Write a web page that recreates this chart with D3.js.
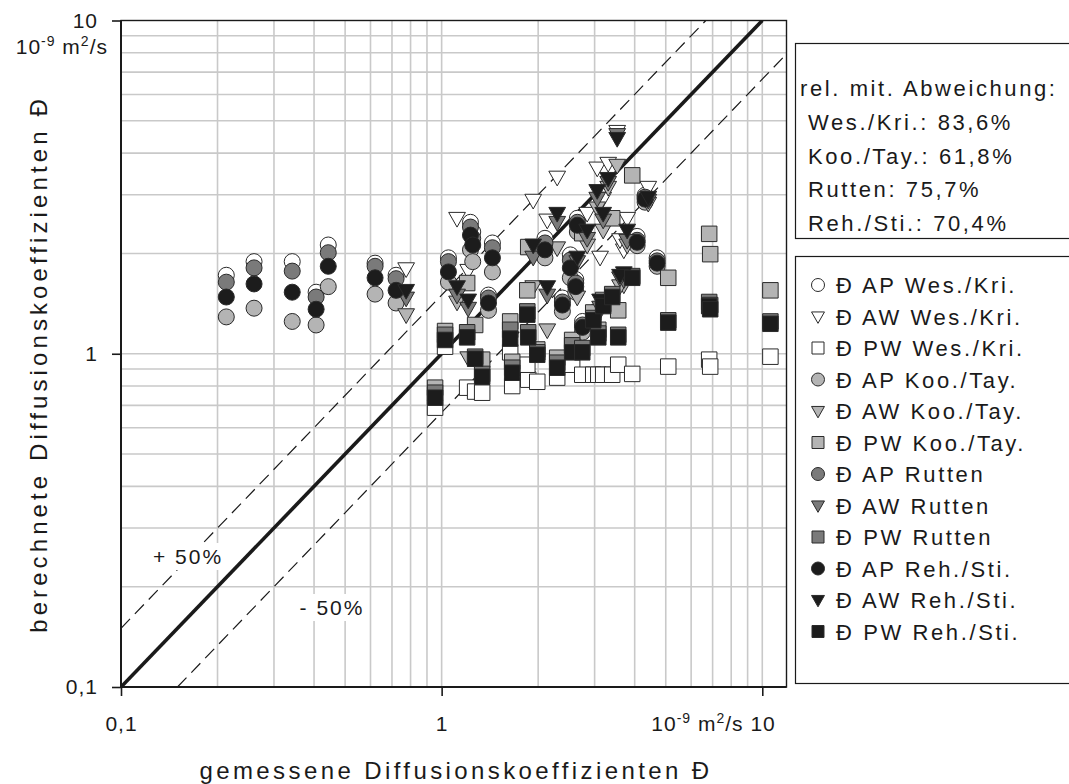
<!DOCTYPE html>
<html>
<head>
<meta charset="utf-8">
<script src="https://cdn.jsdelivr.net/npm/d3@7"></script>
<style>
  body { margin: 0; background: #fff; }
  text { font-family: "Liberation Sans", Arial, sans-serif; fill: #1a1a1a; }
</style>
</head>
<body>
<svg id="chart" width="1069" height="784"></svg>
<script>
// ---- measured vs. calculated diffusion coefficients (10^-9 m²/s) ----
// AP system: measured values and the four model predictions
const apMeasured = [0.213, 0.260, 0.342, 0.406, 0.443, 0.620, 0.721, 1.05, 1.23, 1.25, 1.44, 1.40, 2.10, 2.52, 2.65, 2.62, 2.38, 2.75, 4.07, 4.31, 4.70];
const apWes = [1.72, 1.89, 1.89, 1.53, 2.12, 1.87, 1.72, 1.94, 2.48, 2.32, 2.15, 1.50, 2.22, 1.98, 2.55, 1.67, 1.47, 1.25, 2.25, 2.99, 1.94];
const apKoo = [1.29, 1.37, 1.25, 1.22, 1.59, 1.51, 1.42, 1.64, 2.05, 1.89, 1.76, 1.35, 1.94, 1.69, 2.32, 1.53, 1.34, 1.16, 2.11, 2.85, 1.83];
const apRut = [1.64, 1.81, 1.77, 1.48, 2.01, 1.83, 1.68, 1.89, 2.40, 2.22, 2.08, 1.47, 2.15, 1.91, 2.48, 1.63, 1.43, 1.22, 2.19, 2.95, 1.90];
const apReh = [1.48, 1.62, 1.53, 1.36, 1.83, 1.69, 1.55, 1.76, 2.27, 2.12, 1.94, 1.42, 2.05, 1.81, 2.43, 1.59, 1.40, 1.20, 2.16, 2.91, 1.87];

// AW system
const awMeasured = [0.775, 1.117, 1.21, 1.93, 2.135, 2.293, 2.648, 2.844, 3.057, 3.19, 3.307, 3.528, 3.70, 3.79, 4.41, 3.12, 3.60];
const awWes = [1.80, 2.55, 1.78, 2.89, 2.52, 3.39, 2.43, 2.64, 3.61, 2.93, 3.73, 4.65, 2.05, 2.55, 3.16, 1.95, 2.20];
const awKoo = [1.31, 1.43, 0.973, 1.59, 1.18, 2.08, 1.48, 2.12, 2.74, 2.35, 3.16, 3.68, 1.61, 2.12, 2.83, 1.35, 1.60];
const awRut = [1.47, 1.50, 1.37, 1.95, 1.50, 2.48, 1.89, 2.22, 2.93, 2.52, 3.27, 4.55, 1.67, 2.19, 2.89, 1.38, 1.69];
const awReh = [1.55, 1.59, 1.45, 2.12, 1.59, 2.64, 1.95, 2.35, 3.09, 2.64, 3.36, 4.43, 1.75, 2.35, 2.95, 1.45, 1.72];

// PW system
const pwMeasured = [0.954, 1.025, 1.201, 1.272, 1.338, 1.636, 1.66, 1.862, 1.987, 1.85, 2.293, 2.553, 2.745, 2.97, 3.08, 3.19, 3.404, 3.554, 3.93, 5.09, 6.83, 6.88, 10.6];
const pwWes = [0.689, 1.05, 0.791, 0.770, 0.764, 1.01, 0.80, 0.836, 0.824, 0.927, 0.848, 0.927, 0.865, 0.865, 0.865, 0.865, 0.865, 0.927, 0.87, 0.915, 0.96, 0.915, 0.98];
const pwKoo = [0.791, 1.17, 1.63, 1.22, 0.96, 1.25, 0.946, 2.09, 1.03, 1.55, 0.973, 1.10, 2.30, 1.33, 1.18, 1.45, 2.55, 1.35, 3.43, 1.69, 2.29, 1.99, 1.55];
const pwRut = [0.764, 1.14, 1.16, 0.98, 0.87, 1.18, 0.908, 1.16, 1.01, 1.34, 0.94, 1.06, 1.04, 1.28, 1.15, 1.41, 1.51, 1.14, 1.71, 1.26, 1.43, 1.40, 1.25];
const pwReh = [0.738, 1.10, 1.12, 0.966, 0.853, 1.11, 0.877, 1.12, 0.993, 1.31, 0.908, 1.01, 1.01, 1.26, 1.12, 1.39, 1.48, 1.12, 1.69, 1.24, 1.39, 1.36, 1.23];

// mean relative deviation per model
const modelNames = ["Wes./Kri.", "Koo./Tay.", "Rutten", "Reh./Sti."];
const modelDeviation = ["83,6%", "61,8%", "75,7%", "70,4%"];
const modelFill = ["#ffffff", "#b4b4b4", "#7a7a7a", "#1c1c1c"];

const systems = ["AP", "AW", "PW"];
const systemShape = { AP: "circle", AW: "triangle", PW: "square" };
const measuredBySystem = { AP: apMeasured, AW: awMeasured, PW: pwMeasured };
const predictedBySystem = {
  AP: [apWes, apKoo, apRut, apReh],
  AW: [awWes, awKoo, awRut, awReh],
  PW: [pwWes, pwKoo, pwRut, pwReh]
};

const axisTicks = [0.1, 1, 10];
const axisTickLabels = ["0,1", "1", "10"];

// series in legend order: model outer, system inner
const series = [];
modelNames.forEach((m, mi) => {
  systems.forEach(s => {
    series.push({
      label: "Đ " + s + " " + m,
      shape: systemShape[s],
      fill: modelFill[mi],
      points: measuredBySystem[s].map((xv, i) => ({ x: xv, y: predictedBySystem[s][mi][i] }))
    });
  });
});

const svg = d3.select("#chart");
const plot = { left: 121, right: 786.5, top: 20.5, bottom: 687 };

const x = d3.scaleLog().domain([0.1, 11.9]).range([plot.left, plot.right]);
const y = d3.scaleLog().domain([0.1, 10]).range([plot.bottom, plot.top]);

// grid lines at 2..9 of each decade and at the decade marks
const gridX = [], gridY = [];
[0.1, 1].forEach(d => { for (let k = 2; k <= 9; k++) { gridX.push(d * k); gridY.push(d * k); } });
gridX.push(1, 10); gridY.push(1);

const grid = svg.append("g").attr("stroke", "#c9c9c9").attr("stroke-width", 1.6);
grid.selectAll("line.gx").data(gridX).join("line").attr("class", "gx")
  .attr("x1", d => x(d)).attr("x2", d => x(d)).attr("y1", plot.top).attr("y2", plot.bottom);
grid.selectAll("line.gy").data(gridY).join("line").attr("class", "gy")
  .attr("y1", d => y(d)).attr("y2", d => y(d)).attr("x1", plot.left).attr("x2", plot.right);

// reference lines: 1:1 and ±50 %
const clipId = "plotclip";
svg.append("clipPath").attr("id", clipId).append("rect")
  .attr("x", plot.left).attr("y", plot.top)
  .attr("width", plot.right - plot.left).attr("height", plot.bottom - plot.top);

const refs = svg.append("g").attr("clip-path", `url(#${clipId})`).attr("fill", "none");
const line = d3.line().x(d => x(d[0])).y(d => y(d[1]));
refs.append("path").datum([[0.1, 0.1], [10, 10]]).attr("d", line)
  .attr("stroke", "#1a1a1a").attr("stroke-width", 3.6);
refs.append("path").datum([[0.1, 0.15], [10 / 1.5, 10]]).attr("d", line)
  .attr("stroke", "#1a1a1a").attr("stroke-width", 1.2).attr("stroke-dasharray", "13,7");
refs.append("path").datum([[0.15, 0.1], [11.9, 11.9 / 1.5]]).attr("d", line)
  .attr("stroke", "#1a1a1a").attr("stroke-width", 1.2).attr("stroke-dasharray", "13,7");

// band labels with white background
function bandLabel(cx, cy, txt) {
  const g = svg.append("g");
  const t = g.append("text").attr("x", cx).attr("y", cy + 7).attr("text-anchor", "middle")
    .style("font-size", "21px").style("letter-spacing", "2px").text(txt);
  const bb = t.node().getBBox();
  g.insert("rect", "text").attr("x", bb.x - 5).attr("y", bb.y - 2)
    .attr("width", bb.width + 8).attr("height", bb.height + 4).attr("fill", "#fff");
}
bandLabel(188, 557, "+ 50%");
bandLabel(332, 608, "- 50%");

// marker shapes
function shapePath(shape, s) {
  if (shape === "circle") return d3.symbol(d3.symbolCircle, Math.PI * s * s / 4)();
  if (shape === "square") return `M${-s / 2},${-s / 2}H${s / 2}V${s / 2}H${-s / 2}Z`;
  const w = s * 1.08, h = s * 0.95;
  return `M${-w / 2},${-h * 0.4}L${w / 2},${-h * 0.4}L0,${h * 0.6}Z`;
}

const marks = svg.append("g");
series.forEach(sr => {
  marks.append("g").selectAll("path").data(sr.points).join("path")
    .attr("d", shapePath(sr.shape, sr.shape === "circle" ? 16 : 15.5))
    .attr("transform", d => `translate(${x(d.x)},${y(d.y)})`)
    .attr("fill", sr.fill).attr("stroke", "#2a2a2a").attr("stroke-width", 1);
});

// frame
svg.append("rect").attr("x", plot.left).attr("y", plot.top)
  .attr("width", plot.right - plot.left).attr("height", plot.bottom - plot.top)
  .attr("fill", "none").attr("stroke", "#1a1a1a").attr("stroke-width", 1.4);
svg.append("line").attr("x1", plot.left).attr("x2", plot.right).attr("y1", plot.bottom).attr("y2", plot.bottom)
  .attr("stroke", "#1a1a1a").attr("stroke-width", 2);
svg.append("line").attr("x1", plot.left).attr("x2", plot.left).attr("y1", plot.top).attr("y2", plot.bottom)
  .attr("stroke", "#1a1a1a").attr("stroke-width", 2);

// axes
const fmt = d => axisTickLabels[axisTicks.indexOf(d)];
const xAxis = svg.append("g").attr("transform", `translate(0,${plot.bottom})`)
  .call(d3.axisBottom(x).tickValues(axisTicks).tickFormat(fmt).tickSize(9).tickPadding(20));
const yAxis = svg.append("g").attr("transform", `translate(${plot.left},0)`)
  .call(d3.axisLeft(y).tickValues(axisTicks).tickFormat(fmt).tickSize(9).tickPadding(14));
[xAxis, yAxis].forEach(a => {
  a.select(".domain").remove();
  a.selectAll(".tick line").attr("stroke", "#1a1a1a").attr("stroke-width", 1.6);
  a.selectAll(".tick text").style("font-size", "21px").style("letter-spacing", "1px")
    .attr("font-family", null).attr("fill", "#1a1a1a");
});

// unit with superscripts
function unitText(sel) {
  sel.append("tspan").text("10");
  sel.append("tspan").attr("dy", -8).style("font-size", "14px").text("-9");
  sel.append("tspan").attr("dy", 8).text(" m");
  sel.append("tspan").attr("dy", -8).style("font-size", "14px").text("2");
  sel.append("tspan").attr("dy", 8).text("/s");
}
// x tick "10" carries the unit in front of it
xAxis.selectAll(".tick text").filter(d => d === 10).each(function () {
  const t = d3.select(this).text("").attr("text-anchor", "end").attr("x", 13);
  unitText(t);
  t.append("tspan").text(" 10");
});
const yUnit = svg.append("text").attr("x", 108).attr("y", 54).attr("text-anchor", "end")
  .style("font-size", "21px").style("letter-spacing", "1px");
unitText(yUnit);

// axis titles
svg.append("text").attr("x", 456).attr("y", 779).attr("text-anchor", "middle")
  .style("font-size", "24px").style("letter-spacing", "3.4px")
  .text("gemessene Diffusionskoeffizienten Đ");
svg.append("text").attr("transform", "translate(47,364) rotate(-90)").attr("text-anchor", "middle")
  .style("font-size", "24px").style("letter-spacing", "4.1px")
  .text("berechnete Diffusionskoeffizienten Đ");

// deviation box
svg.append("rect").attr("x", 795.5).attr("y", 43.5).attr("width", 300).attr("height", 195)
  .attr("fill", "#fff").attr("stroke", "#1a1a1a").attr("stroke-width", 1.2);
svg.append("text").attr("x", 800).attr("y", 96).style("font-size", "22px").style("letter-spacing", "2.6px")
  .text("rel. mit. Abweichung:");
modelNames.forEach((m, i) => {
  svg.append("text").attr("x", 808).attr("y", 130 + i * 33.5)
    .style("font-size", "22px").style("letter-spacing", "2.6px")
    .text(m + ": " + modelDeviation[i]);
});

// legend
svg.append("rect").attr("x", 795.5).attr("y", 256.5).attr("width", 300).attr("height", 427)
  .attr("fill", "#fff").attr("stroke", "#1a1a1a").attr("stroke-width", 1.2);
const leg = svg.append("g").selectAll("g").data(series).join("g")
  .attr("transform", (d, i) => `translate(818,${285 + i * 31.5})`);
leg.append("path").attr("d", d => shapePath(d.shape, d.shape === "circle" ? 13 : 12))
  .attr("fill", d => d.fill).attr("stroke", "#2a2a2a").attr("stroke-width", 1);
leg.append("text").attr("x", 18).attr("y", 8).style("font-size", "22px").style("letter-spacing", "2.6px")
  .text(d => d.label);
</script>
</body>
</html>
